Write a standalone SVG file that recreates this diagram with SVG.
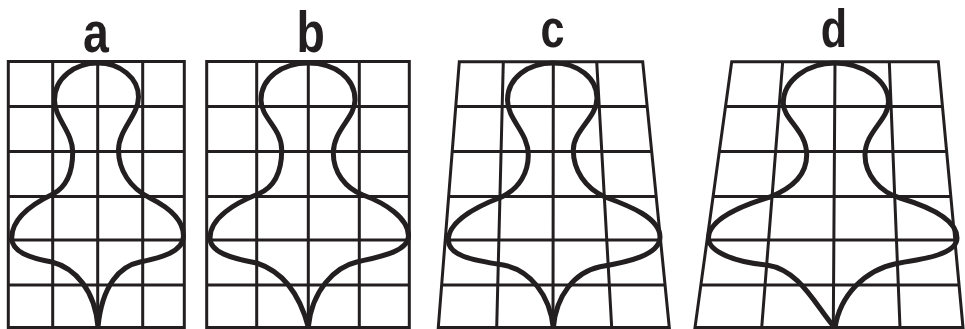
<svg xmlns="http://www.w3.org/2000/svg" width="965" height="329" viewBox="0 0 965 329">
<style>
.grid{fill:none;stroke:#231f20;stroke-width:3}
.shape{fill:none;stroke:#231f20;stroke-width:5;stroke-linejoin:round;stroke-linecap:round}
.lbl{font-family:"Liberation Sans",Arial,sans-serif;font-weight:bold;fill:#231f20;text-anchor:middle}
</style>
<rect width="965" height="329" fill="#fff"/>
<g id="panel-a">
<text class="lbl" font-size="58" transform="translate(96,52) scale(0.8,1)">a</text>
<path class="grid" d="M8.3,61.5H184.3V327.5H8.3Z M52.7,61.5V327.5 M97.7,61.5V327.5 M142.7,61.5V327.5 M8.3,106.5H184.3 M8.3,151.5H184.3 M8.3,196.5H184.3 M8.3,240H184.3 M8.3,285H184.3"/>
<path class="shape" d="M97.7,63 C120,63 138.5,78 138.5,97 C138.5,115 118.5,130 118.5,150 C118.5,170 130,188 150,198 C168,207 183.5,220 183.5,236 C183.5,252 160,258 140,262 C120,266 102,285 98,327 C95,290 75,268 52,262 C30,258 11.7,252 11.7,238 C11.7,220 30,205 53,194 C68,186 72.7,170 72.7,152 C72.7,132 54.5,118 54.5,100 C54.5,78 75,63 97.7,63Z"/>
</g>
<g id="panel-b">
<text class="lbl" font-size="58" transform="translate(310.8,52) scale(0.8,1)">b</text>
<path class="grid" d="M206.7,61.5H409.3V327.5H206.7Z M256.7,61.5V327.5 M308.3,61.5V327.5 M359.3,61.5V327.5 M206.7,106.5H409.3 M206.7,151.5H409.3 M206.7,196.5H409.3 M206.7,240H409.3 M206.7,285H409.3"/>
<path class="shape" d="M308.3,63 C335,63 355,78 355,100 C355,118 333.3,130 333.3,153 C333.3,172 345,188 363,195 C385,203 408.5,218 408.5,236 C408.5,252 378,257 356.7,262 C335,267 312,290 308.3,327 C298,288 278,270 256.7,263 C230,258 210,252 210,238 C210,218 235,203 258.3,194 C275,187 281.7,170 281.7,150 C281.7,128 261,118 261,100 C261,78 282,63 308.3,63Z"/>
</g>
<g id="panel-c">
<text class="lbl" font-size="54" transform="translate(552.5,47) scale(0.8,1)">c</text>
<path class="grid" d="M459.3,61.7L642.7,61.7L669.3,327.5L438.3,327.5Z M503.3,61.7L496.7,327.5 M553.3,61.7L553,327.5 M596.7,61.7L611.7,327.5 M455.8,106.5H647.2 M452.2,151.5H651.7 M448.6,196.5H656.2 M445.2,240H660.5 M441.7,285H665"/>
<path class="shape" d="M553.3,63 C578,63 597,78 597,98 C597,118 573.3,130 573.3,150 C573.3,170 585,188 605,197 C630,206 660,218 660,237 C660,255 628,262 600,266.7 C575,272 556,295 553.3,328 C550,295 530,270 503.3,265 C470,260 448.3,255 448.3,240 C448.3,222 475,207 501.7,197 C520,188 528.3,172 528.3,155 C528.3,132 507.5,120 507.5,100 C507.5,78 528,63 553.3,63Z"/>
</g>
<g id="panel-d">
<text class="lbl" font-size="54" transform="translate(834,47) scale(0.8,1)">d</text>
<path class="grid" d="M731.7,61.7L938.3,61.7L963,327.5L695,327.5Z M782.7,61.7L761.7,327.5 M835,61.7L833.3,327.5 M889.3,61.7L900,327.5 M725.5,106.5H942.5 M719.3,151.5H946.6 M713.1,196.5H950.8 M707.1,240H954.9 M700.9,285H959.1"/>
<path class="shape" d="M835,63 C862,63 888.5,80 888.5,102 C888.5,120 865,132 865,155 C865,175 880,192 900,198 C930,207 957,220 957,238 C957,254 925,259 896.7,263.5 C865,270 840,295 835,328 C815,305 800,270 766.7,265 C735,262 708.5,252 708.5,238 C708.5,220 740,206 770,197 C795,187 806.7,172 806.7,155 C806.7,130 783.3,120 783.3,103 C783.3,80 808,63 835,63Z"/>
</g>
<g id="connectors"></g>
</svg>
